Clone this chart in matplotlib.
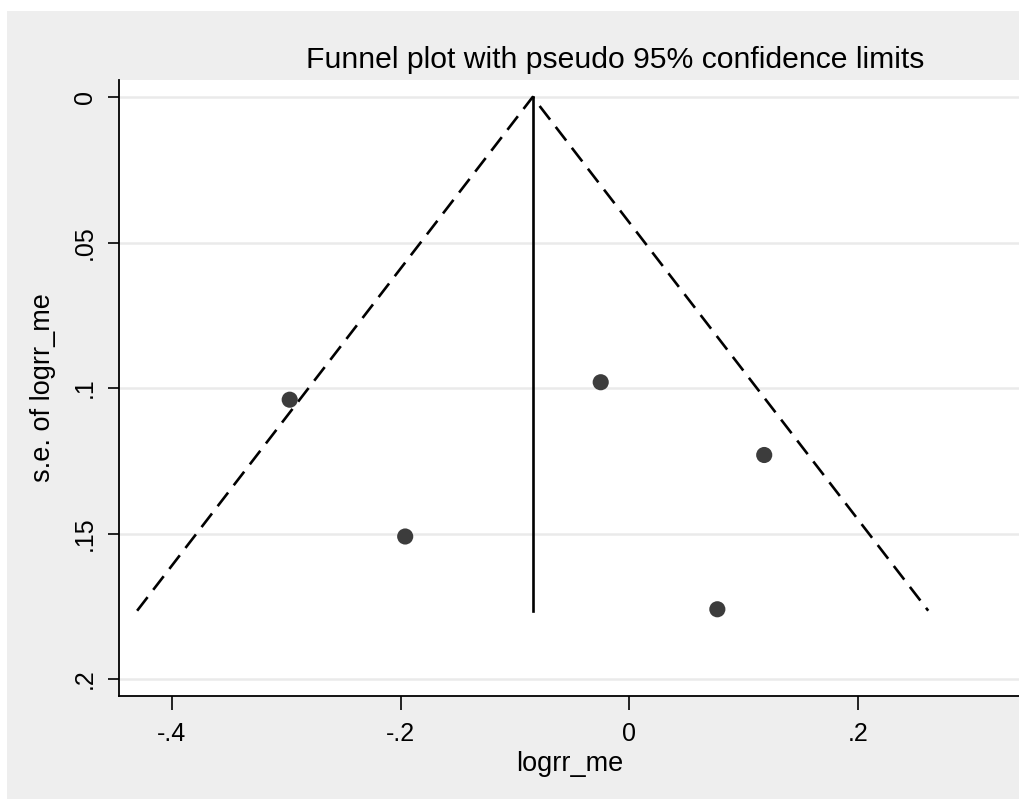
import matplotlib
matplotlib.use("Agg")
import matplotlib.pyplot as plt
from matplotlib.patches import Rectangle

# Data
logrr_me = [-0.297, -0.196, -0.025, 0.118, 0.077]
se_logrr = [0.104, 0.151, 0.098, 0.123, 0.176]
pooled = -0.0845
max_se = 0.1765
z = 1.96

xticks = [-0.4, -0.2, 0.0, 0.2]
xticklabels = ["-.4", "-.2", "0", ".2"]
yticks = [0.0, 0.05, 0.10, 0.15, 0.20]
yticklabels = ["0", ".05", ".1", ".15", ".2"]

plt.rcParams["font.family"] = ["Liberation Sans", "DejaVu Sans"]

W, H = 1020, 799
fig = plt.figure(figsize=(W / 100, H / 100), dpi=100)
fig.patch.set_facecolor("white")
bg = Rectangle((7 / W, -0.02), 1.02, 1 - 11 / H + 0.02, transform=fig.transFigure,
               facecolor="#eeeeee", edgecolor="none", zorder=0)
fig.patches.append(bg)

ax = fig.add_axes([119 / W, (H - 696) / H, (W - 119) / W, (696 - 80) / H])
ax.set_facecolor("white")
ax.set_zorder(1)

ax.set_xlim(-0.4463, 0.3417)
ax.set_ylim(0.2058, -0.00584)

for y in yticks:
    ax.axhline(y, color="#eaeaea", lw=1.8, zorder=1)

# funnel
ax.plot([pooled - z * max_se, pooled, pooled + z * max_se], [max_se, 0, max_se],
        color="black", lw=1.9, dashes=(6.5, 3.5), zorder=2)
ax.plot([pooled, pooled], [0, max_se], color="black", lw=1.9, zorder=2)

ax.scatter(logrr_me, se_logrr, s=135, color="#3c3c3c", edgecolors="none", zorder=3)

for s in ["top", "right"]:
    ax.spines[s].set_visible(False)
for s in ["left", "bottom"]:
    ax.spines[s].set_linewidth(1.3)
    ax.spines[s].set_color("black")

ax.set_xticks(xticks)
ax.set_xticklabels(xticklabels, fontsize=18)
ax.set_yticks(yticks)
ax.set_yticklabels(yticklabels, fontsize=18, rotation=90, va="center")
ax.tick_params(axis="x", length=10, width=1.2, pad=9)
ax.tick_params(axis="y", length=8, width=1.2, pad=8)

ax.set_xlabel("logrr_me", fontsize=19.5, labelpad=3)
ax.set_ylabel("s.e. of logrr_me", fontsize=19.5, labelpad=12)
fig.text(615 / W, 1 - 68 / H, "Funnel plot with pseudo 95% confidence limits",
         ha="center", va="baseline", fontsize=21.7)

fig.savefig("out.png", dpi=100)
